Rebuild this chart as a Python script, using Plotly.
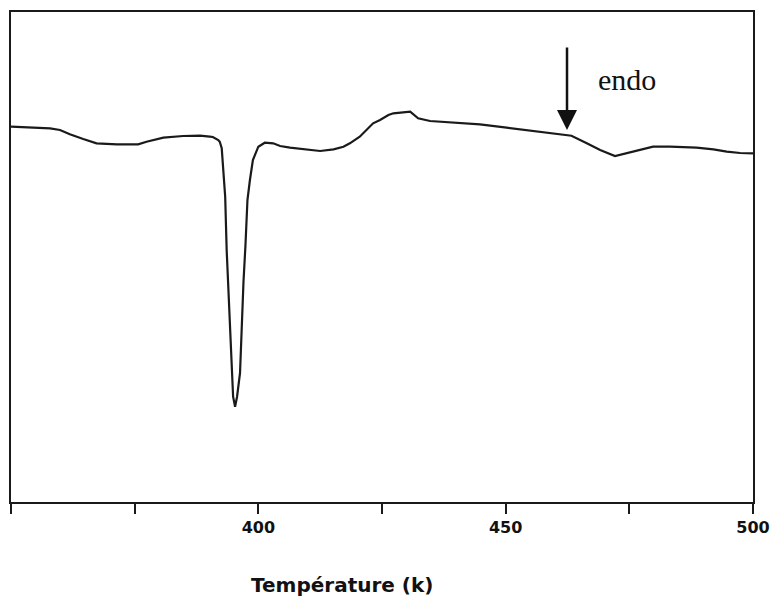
import plotly.graph_objects as go

# DSC curve (temperature in K, signal in arbitrary units)
temperature = [350.0, 355.2, 357.9, 359.9, 361.9, 364.6, 367.3, 371.4, 375.7, 377.4,
               380.8, 384.8, 388.2, 390.2, 390.8, 391.9, 392.2, 392.6, 392.8, 393.3,
               393.6, 394.1, 394.6, 394.9, 395.3, 395.7, 396.3, 396.6, 397.0, 397.4,
               397.8, 398.3, 398.9, 400.0, 401.3, 403.0, 404.4, 406.4, 409.8, 412.5,
               415.2, 417.2, 418.5, 420.5, 423.2, 424.6, 426.3, 427.3, 430.7, 432.3,
               434.7, 438.1, 444.8, 450.2, 455.6, 461.0, 463.3, 466.4, 469.1, 472.1,
               475.1, 479.8, 483.2, 488.6, 492.0, 494.7, 497.4, 500.0]
signal = [375.3, 374.7, 373.7, 372.0, 367.7, 363.0, 358.7, 357.7, 357.7, 360.3,
          364.3, 366.0, 366.3, 365.3, 365.0, 362.0, 360.3, 353.7, 342.0, 305.3,
          252.0, 195.3, 139.0, 105.3, 95.3, 105.3, 129.0, 175.3, 220.3, 257.0,
          302.0, 322.0, 342.0, 355.3, 359.3, 358.7, 356.0, 354.3, 352.7, 351.0,
          352.7, 355.3, 358.7, 365.3, 378.7, 382.0, 387.0, 388.7, 390.3, 383.7,
          381.0, 379.7, 377.7, 374.3, 371.0, 368.0, 366.3, 358.7, 352.0, 346.0,
          349.7, 355.3, 355.3, 354.3, 352.7, 350.3, 349.0, 348.7]

tick_values = [350, 375, 400, 425, 450, 475, 500]
tick_labels = ["", "", "400", "", "450", "", "500"]

x_title = "Température (k)"
arrow_label = "endo"
arrow_x = 462.4
arrow_tip = 372

ink = "#1a1a1a"

fig = go.Figure()
fig.add_trace(go.Scatter(x=temperature, y=signal, mode="lines",
                         line=dict(color=ink, width=2.2), showlegend=False,
                         hoverinfo="x+y"))

fig.add_annotation(x=arrow_x, y=arrow_tip, xref="x", yref="y",
                   ax=0, ay=-84, axref="pixel", ayref="pixel",
                   showarrow=True, arrowhead=2, arrowsize=1.6, arrowwidth=2.5,
                   arrowcolor="#111111", text="")
fig.add_annotation(x=468.2, y=423, xref="x", yref="y", showarrow=False,
                   text=arrow_label, xanchor="left", yanchor="middle",
                   font=dict(family="Liberation Serif", size=30, color="#111111"))
fig.add_annotation(x=416.9, y=-0.169, xref="x", yref="paper", showarrow=False,
                   text=x_title, xanchor="center", yanchor="middle",
                   font=dict(family="DejaVu Sans", size=20, color="#111111", weight="bold"))

fig.update_layout(
    width=770, height=597,
    margin=dict(l=11, r=17, t=12, b=95),
    paper_bgcolor="white", plot_bgcolor="white",
    xaxis=dict(range=[350, 500], tickvals=tick_values, ticktext=tick_labels,
               ticks="outside", ticklen=10, tickwidth=2, tickcolor=ink,
               showline=True, linewidth=2, linecolor=ink, mirror=True,
               showgrid=False, zeroline=False, automargin=False,
               tickfont=dict(family="DejaVu Sans", size=16, color="#111111", weight="bold")),
    yaxis=dict(range=[0, 490], showline=True, linewidth=2, linecolor=ink, mirror=True,
               showticklabels=False, ticks="", showgrid=False, zeroline=False,
               automargin=False),
)

fig.write_html(
    "out.html",
    post_script="document.documentElement.style.overflow='hidden';"
                "document.body.style.margin='0';document.body.style.overflow='hidden';",
)
